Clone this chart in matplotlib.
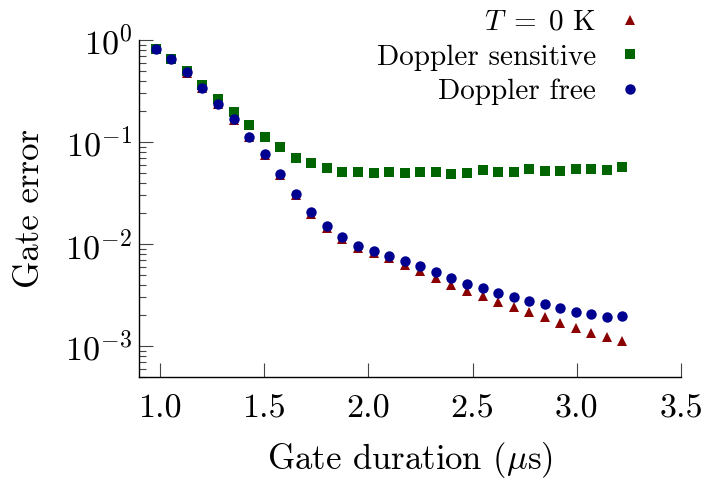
import matplotlib
matplotlib.use("Agg")
import matplotlib.pyplot as plt
from matplotlib.ticker import LogLocator, FixedLocator

plt.rcParams['font.family'] = ['cmr10', 'DejaVu Serif']
plt.rcParams['mathtext.fontset'] = 'cm'
plt.rcParams['axes.unicode_minus'] = False
plt.rcParams['axes.formatter.use_mathtext'] = True

# Gate duration (µs)
duration = [0.98, 1.055, 1.13, 1.204, 1.279, 1.354, 1.428, 1.503, 1.577, 1.652,
            1.727, 1.801, 1.876, 1.951, 2.025, 2.1, 2.174, 2.249, 2.324, 2.398,
            2.473, 2.548, 2.622, 2.697, 2.771, 2.846, 2.921, 2.995, 3.07, 3.145, 3.219]

err_T0 = [0.81, 0.645, 0.478, 0.335, 0.235, 0.165, 0.111, 0.0745, 0.0478, 0.0299,
          0.0199, 0.01436, 0.01119, 0.00914, 0.00807, 0.00721, 0.00622, 0.00543, 0.00468, 0.00399,
          0.00344, 0.00309, 0.00272, 0.00243, 0.00215, 0.00194, 0.00169, 0.00149, 0.00134, 0.00122, 0.00113]

err_sensitive = [0.816, 0.651, 0.493, 0.362, 0.264, 0.198, 0.146, 0.111, 0.0887, 0.0697,
                 0.0618, 0.0560, 0.0508, 0.0505, 0.0500, 0.0511, 0.0493, 0.0511, 0.0511, 0.0489,
                 0.0500, 0.0527, 0.0508, 0.0511, 0.0547, 0.0523, 0.0523, 0.0540, 0.0543, 0.0535, 0.0573]

err_free = [0.816, 0.651, 0.482, 0.338, 0.237, 0.167, 0.1127, 0.0757, 0.0486, 0.0307,
            0.0205, 0.0149, 0.01171, 0.00962, 0.00853, 0.00767, 0.00681, 0.00604, 0.00527, 0.00464,
            0.00406, 0.00368, 0.00334, 0.00304, 0.00274, 0.00260, 0.00236, 0.00214, 0.00206, 0.00191, 0.00197]

labels = [r"$T\;=\;0$ K", "Doppler sensitive", "Doppler free"]
xticks = [1.0, 1.5, 2.0, 2.5, 3.0, 3.5]

fig = plt.figure(figsize=(7.02, 4.83), dpi=100)
ax = fig.add_axes([139/702, 1-376.7/483, (681-139)/702, (376.7-40)/483])

ax.plot(duration, err_T0, linestyle='none', marker='^', markersize=7, color='#8b0000',
        markeredgewidth=0, label=labels[0])
ax.plot(duration, err_sensitive, linestyle='none', marker='s', markersize=7.5, color='#006400',
        markeredgewidth=0, label=labels[1])
ax.plot(duration, err_free, linestyle='none', marker='o', markersize=7.5, color='#000090',
        markeredgewidth=0, label=labels[2])

ax.set_yscale('log')
ax.set_xlim(0.9, 3.5)
ax.set_ylim(5e-4, 1)
ax.xaxis.set_major_locator(FixedLocator(xticks))
ax.set_xticklabels([f"{t:.1f}" for t in xticks])
ax.yaxis.set_major_locator(LogLocator(base=10, numticks=10))
ax.yaxis.set_minor_locator(LogLocator(base=10, subs=range(2, 10), numticks=20))

for s in ['top', 'right']:
    ax.spines[s].set_visible(False)
for s in ['left', 'bottom']:
    ax.spines[s].set_linewidth(1.0)

ax.tick_params(axis='both', which='major', direction='in', length=10, width=0.8,
               color='#444444', labelsize=24.5)
ax.tick_params(axis='x', which='major', pad=13)
ax.tick_params(axis='y', which='major', pad=5)
ax.tick_params(axis='y', which='minor', direction='in', length=5, width=0.8, color='#444444')
ax.tick_params(axis='x', which='minor', length=0)

ax.set_xlabel(r"Gate duration ($\mu$s)", fontsize=25, labelpad=12)
ax.set_ylabel("Gate error", fontsize=25, labelpad=14)

leg = ax.legend(loc='upper right', bbox_to_anchor=(656/702, 1.0 + 5/483), bbox_transform=fig.transFigure,
                frameon=False, markerfirst=False, numpoints=1, fontsize=21,
                handlelength=0.8, handletextpad=0.75, labelspacing=0.28, borderaxespad=0.1)
for t in leg.get_texts():
    t.set_ha('right')

fig.savefig("out.png", dpi=100)
